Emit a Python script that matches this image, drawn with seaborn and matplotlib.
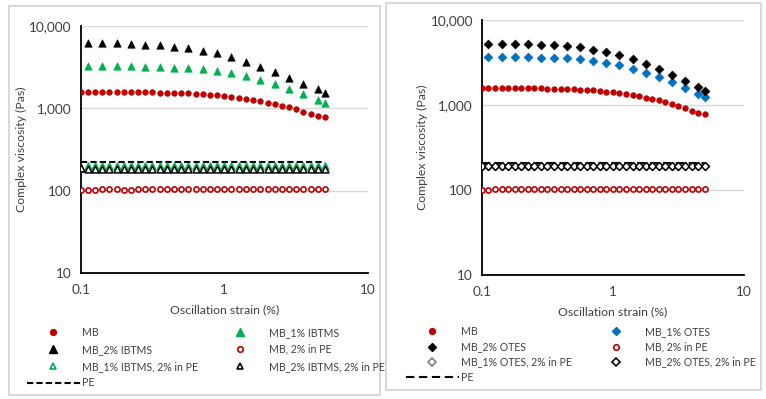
import matplotlib
matplotlib.use("Agg")
import matplotlib.pyplot as plt
from matplotlib.lines import Line2D
from matplotlib.patches import Rectangle
from matplotlib.ticker import FuncFormatter, LogLocator, NullFormatter
import numpy as np
import pandas as pd
import seaborn as sns

sns.set_style("white")
plt.rcParams['font.family'] = ['Lato', 'DejaVu Sans']

# ---------------- data ----------------
strain_fine = [0.100, 0.112, 0.126, 0.141, 0.158, 0.178, 0.200, 0.224, 0.251, 0.282,
               0.316, 0.355, 0.398, 0.447, 0.501, 0.562, 0.631, 0.708, 0.794, 0.891,
               1.00, 1.12, 1.26, 1.41, 1.58, 1.78, 2.00, 2.24, 2.51, 2.82,
               3.16, 3.55, 3.98, 4.47, 5.01]
strain_coarse = [0.112, 0.141, 0.178, 0.224, 0.282, 0.355, 0.447, 0.562, 0.708, 0.891,
                 1.12, 1.41, 1.78, 2.24, 2.82, 3.55, 4.47, 5.01]

mb = [1580, 1580, 1580, 1580, 1580, 1580, 1578, 1575, 1572, 1568,
      1563, 1557, 1550, 1540, 1530, 1518, 1503, 1485, 1463, 1437,
      1405, 1370, 1335, 1300, 1260, 1220, 1175, 1130, 1080, 1025,
      970, 915, 860, 815, 775]
mb_pe = [101, 101, 103, 104, 104, 104, 103, 103, 104, 104,
         104, 104, 104, 104, 104, 104, 104, 104, 104, 104,
         104, 104, 104, 104, 104, 104, 104, 104, 104, 104,
         104, 104, 104, 104, 104]

mb_1_ibtms = [3250, 3250, 3250, 3230, 3200, 3180, 3130, 3080, 3000, 2880,
              2700, 2480, 2200, 1950, 1720, 1480, 1280, 1160]
mb_2_ibtms = [6200, 6200, 6150, 6050, 5950, 5800, 5600, 5350, 5000, 4650,
              4150, 3700, 3200, 2750, 2350, 2000, 1700, 1550]
mb_1_ibtms_pe = [190, 202, 202, 202, 202, 202, 202, 202, 202, 202,
                 202, 202, 202, 202, 202, 202, 202, 202, 202, 202,
                 202, 202, 202, 202, 202, 202, 202, 202, 202, 202,
                 202, 202, 202, 202, 202]
mb_2_ibtms_pe = [188, 182, 182, 182, 182, 182, 182, 182, 182, 182,
                 182, 182, 182, 182, 182, 182, 182, 182, 182, 182,
                 182, 182, 182, 182, 182, 182, 182, 182, 182, 182,
                 182, 182, 182, 182, 182]
pe_left = [224, 224, 224, 224, 224, 224, 224, 224, 224, 224,
           224, 224, 224, 224, 224, 224, 224, 224, 224, 224,
           224, 224, 224, 224, 224, 224, 224, 224, 224, 224,
           224, 224, 224, 224, 224]

mb_1_otes = [3650, 3650, 3650, 3650, 3620, 3590, 3530, 3430, 3330, 3160,
             2940, 2640, 2390, 2110, 1860, 1600, 1360, 1230]
mb_2_otes = [5230, 5230, 5230, 5190, 5140, 5050, 4920, 4750, 4450, 4180,
             3890, 3460, 3050, 2620, 2250, 1910, 1610, 1480]
mb_1_otes_pe = [194, 194, 194, 194, 194, 194, 194, 194, 194, 194,
                194, 194, 194, 194, 194, 194, 194, 194, 194, 194,
                194, 194, 194, 194, 194, 194, 194, 194, 194, 194,
                194, 194, 194, 194, 194]
mb_2_otes_pe = [193, 193, 193, 193, 193, 193, 193, 193, 193, 193,
                193, 193, 193, 193, 193, 193, 193, 193, 193, 193,
                193, 193, 193, 193, 193, 193, 193, 193, 193, 193,
                193, 193, 193, 193, 193]
pe_right = [209, 209, 209, 209, 209, 209, 209, 209, 209, 209,
            209, 209, 209, 209, 209, 209, 209, 209, 209, 209,
            209, 209, 209, 209, 209, 209, 209, 209, 209, 209,
            209, 209, 209, 209, 209]

y_ticks = [10, 100, 1000, 10000]
x_ticks = [0.1, 1, 10]

RED = '#C00000'
GREEN = '#00B050'
BLACK = '#000000'
BLUE = '#0070C0'
GRAY = '#808080'
TXT = '#404040'

W, H = 766, 399
fig = plt.figure(figsize=(W / 100, H / 100), dpi=100)


def fx(px):
    return px / W


def fy(py):
    return 1 - py / H


# panel boxes
for (x0, y0, x1, y1) in [(9, 6, 380, 395), (386, 3, 761, 390)]:
    fig.patches.append(Rectangle((fx(x0), fy(y1)), fx(x1 - x0), (y1 - y0) / H,
                                 transform=fig.transFigure, fill=False,
                                 edgecolor='#d9d9d9', linewidth=1.5))


def style_axes(ax):
    ax.set_xscale('log')
    ax.set_yscale('log')
    ax.set_xlim(0.1, 10)
    ax.set_ylim(10, 10000)
    ax.set_xticks(x_ticks)
    ax.set_yticks(y_ticks)
    ax.xaxis.set_major_formatter(FuncFormatter(lambda v, p: f"{v:g}"))
    ax.yaxis.set_major_formatter(FuncFormatter(lambda v, p: f"{int(round(v)):,}"))
    ax.xaxis.set_minor_locator(LogLocator(base=10, subs=np.arange(2, 10)))
    ax.yaxis.set_minor_locator(LogLocator(base=10, subs=np.arange(2, 10)))
    ax.xaxis.set_minor_formatter(NullFormatter())
    ax.yaxis.set_minor_formatter(NullFormatter())
    for s in ['top', 'right']:
        ax.spines[s].set_visible(False)
    for s in ['left', 'bottom']:
        ax.spines[s].set_color('#000000')
        ax.spines[s].set_linewidth(1.3)
    ax.tick_params(which='major', direction='out', length=4, width=1.2, color='black',
                   labelsize=9.8, labelcolor=TXT, pad=4)
    ax.tick_params(axis='y', which='major', pad=2.5)
    ax.tick_params(which='minor', direction='out', length=3, width=1.0, color='black')
    ax.grid(False)
    ax.set_axisbelow(True)
    for yv in y_ticks[1:]:
        ax.axhline(yv, color='#d9d9d9', lw=1.0, zorder=0)
    ax.set_xlabel('Oscillation strain (%)', fontsize=8.8, color=TXT, labelpad=6,
                  family=['Lato', 'DejaVu Sans'])
    ax.set_ylabel('Complex viscosity (Pas)', fontsize=8.8, color=TXT, labelpad=1.5,
                  family=['Lato', 'DejaVu Sans'])
    ax.set_facecolor('none')


def scat(ax, x, y, marker, face, edge, s, lw=1.0, z=3):
    df = pd.DataFrame({'x': x, 'y': y})
    sns.scatterplot(data=df, x='x', y='y', ax=ax, marker=marker, s=s,
                    facecolor=face, edgecolor=edge, linewidth=lw, zorder=z, legend=False)


def pe_line(ax, x, y, dashes):
    df = pd.DataFrame({'x': x, 'y': y})
    sns.lineplot(data=df, x='x', y='y', ax=ax, color='black', lw=1.5,
                 dashes=False, zorder=2, legend=False)
    ax.lines[-1].set_dashes(dashes)


# ---------------- left panel ----------------
axL = fig.add_axes([fx(80.7), fy(273), fx(368 - 80.7), (273 - 26) / H])
pe_line(axL, strain_fine, pe_left, (3, 1.5))
scat(axL, strain_fine, mb, 'o', RED, RED, 16, 0.5)
scat(axL, strain_coarse, mb_1_ibtms, '^', GREEN, GREEN, 28, 0.5)
scat(axL, strain_coarse, mb_2_ibtms, '^', BLACK, BLACK, 28, 0.5)
scat(axL, strain_fine, mb_pe, 'o', 'white', RED, 14, 1.2)
scat(axL, strain_fine, mb_1_ibtms_pe, '^', 'white', GREEN, 24, 1.1)
scat(axL, strain_fine, mb_2_ibtms_pe, '^', 'white', BLACK, 24, 1.1)
style_axes(axL)

# ---------------- right panel ----------------
axR = fig.add_axes([fx(482), fy(275), fx(744 - 482), (275 - 20) / H])
pe_line(axR, strain_fine, pe_right, (4, 2.2))
scat(axR, strain_fine, mb, 'o', RED, RED, 16, 0.5)
scat(axR, strain_coarse, mb_1_otes, 'D', BLUE, BLUE, 20, 0.5)
scat(axR, strain_coarse, mb_2_otes, 'D', BLACK, BLACK, 20, 0.5)
scat(axR, strain_fine, mb_pe, 'o', 'white', RED, 14, 1.2)
scat(axR, strain_fine, mb_1_otes_pe, 'D', 'white', GRAY, 16, 1.1)
scat(axR, strain_fine, mb_2_otes_pe, 'D', 'white', BLACK, 16, 1.1)
style_axes(axR)


# ---------------- legends ----------------
def mk(marker, face, edge, ms, mew=1.0):
    return Line2D([], [], linestyle='none', marker=marker, markerfacecolor=face,
                  markeredgecolor=edge, markersize=ms, markeredgewidth=mew)


def add_leg(handles, labels, x_px, y_px, spacing):
    leg = fig.legend(handles, labels, loc='upper left',
                     bbox_to_anchor=(fx(x_px), fy(y_px)), bbox_transform=fig.transFigure,
                     frameon=False, fontsize=7.6, handlelength=5.0, handletextpad=0.25,
                     borderpad=0, borderaxespad=0, labelspacing=spacing, labelcolor=TXT)
    return leg


pe_h_left = Line2D([], [], color='black', lw=1.5, dashes=(3, 1.5))
pe_h_right = Line2D([], [], color='black', lw=1.5, dashes=(4, 2.2))

add_leg([mk('o', RED, RED, 4.2), mk('^', BLACK, BLACK, 5.5),
         mk('^', 'white', GREEN, 5.0, 1.2), pe_h_left],
        ['MB', 'MB_2% IBTMS', 'MB_1% IBTMS, 2% in PE', 'PE'], 27, 327, 0.55)
add_leg([mk('^', GREEN, GREEN, 5.5), mk('o', 'white', RED, 4.0, 1.2),
         mk('^', 'white', BLACK, 5.0, 1.2)],
        ['MB_1% IBTMS', 'MB, 2% in PE', 'MB_2% IBTMS, 2% in PE'], 214, 327, 0.55)

add_leg([mk('o', RED, RED, 4.2), mk('D', BLACK, BLACK, 4.5),
         mk('D', 'white', GRAY, 4.2, 1.2), pe_h_right],
        ['MB', 'MB_2% OTES', 'MB_1% OTES, 2% in PE', 'PE'], 406, 326, 0.4)
add_leg([mk('D', BLUE, BLUE, 4.5), mk('o', 'white', RED, 4.0, 1.2),
         mk('D', 'white', BLACK, 4.2, 1.2)],
        ['MB_1% OTES', 'MB, 2% in PE', 'MB_2% OTES, 2% in PE'], 590, 326, 0.4)

fig.savefig('out.png', dpi=100)
